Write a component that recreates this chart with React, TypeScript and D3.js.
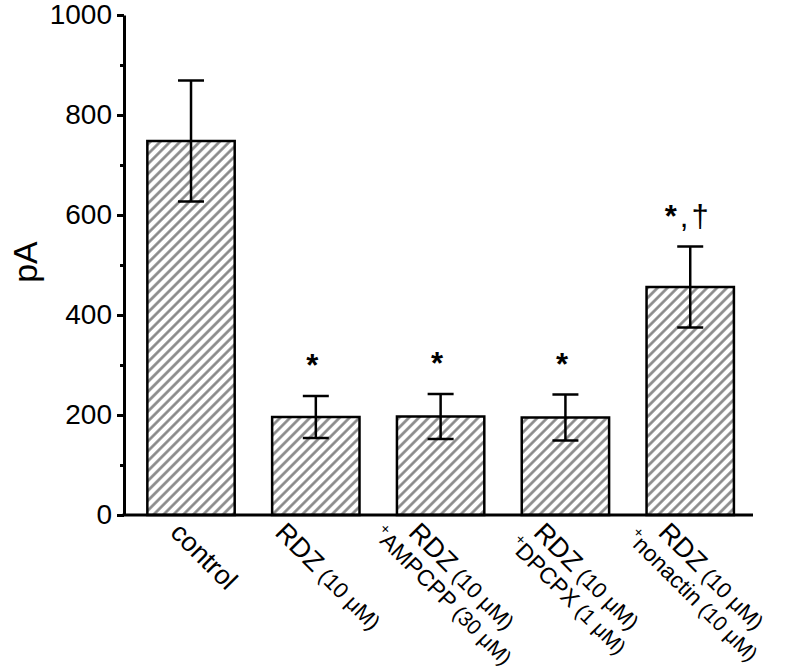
import { useEffect, useRef } from 'react';
import * as d3 from 'd3';

const categories = ['control', 'rdz', 'rdz_ampcpp', 'rdz_dpcpx', 'rdz_nonactin'];
const xLabels = [
  ['control'],
  ['RDZ (10 μM)'],
  ['RDZ (10 μM)', '+AMPCPP (30 μM)'],
  ['RDZ (10 μM)', '+DPCPX (1 μM)'],
  ['RDZ (10 μM)', '+nonactin (10 μM)'],
];
const means = [748, 196, 197, 195, 456];
const errors = [121, 42, 45, 46, 81];
const marks = ['', '*', '*', '*', '*,†'];
const yTicks = [0, 200, 400, 600, 800, 1000];
const yMinorTicks = [100, 300, 500, 700, 900];
const yTitle = 'pA';

const W = 787;
const H = 672;
const FONT = '"Liberation Sans", Arial, Helvetica, sans-serif';

export default function App() {
  const svgRef = useRef<SVGSVGElement>(null);

  useEffect(() => {
    if (!svgRef.current) return;
    const svg = d3.select(svgRef.current);
    svg.selectAll('*').remove();

    const left = 124, right = 753, top = 15, bottom = 515;

    const x = d3.scaleBand<string>()
      .domain(categories)
      .range([left, right])
      .paddingInner(0.3)
      .paddingOuter(0.17)
      .align(0.55);
    const y = d3.scaleLinear().domain([0, 1000]).range([bottom, top]);

    svg.append('rect').attr('width', W).attr('height', H).attr('fill', '#fff');

    // diagonal hatch
    const pat = svg.append('defs').append('pattern')
      .attr('id', 'hatch')
      .attr('patternUnits', 'userSpaceOnUse')
      .attr('width', 7).attr('height', 7)
      .attr('patternTransform', 'rotate(45)');
    pat.append('rect').attr('width', 7).attr('height', 7).attr('fill', '#fff');
    pat.append('line')
      .attr('x1', 3.5).attr('y1', -1).attr('x2', 3.5).attr('y2', 8)
      .attr('stroke', '#858585').attr('stroke-width', 2.6);

    // bars
    svg.append('g').selectAll('rect')
      .data(categories)
      .join('rect')
      .attr('x', d => x(d)!)
      .attr('y', (d, i) => y(means[i]))
      .attr('width', x.bandwidth())
      .attr('height', (d, i) => bottom - y(means[i]))
      .attr('fill', 'url(#hatch)')
      .attr('stroke', '#000')
      .attr('stroke-width', 2.5);

    // error bars
    const cap = 13;
    const eb = svg.append('g').attr('stroke', '#000').attr('stroke-width', 2.5);
    categories.forEach((c, i) => {
      const cx = x(c)! + x.bandwidth() / 2;
      const hi = y(means[i] + errors[i]);
      const lo = y(means[i] - errors[i]);
      eb.append('line').attr('x1', cx).attr('x2', cx).attr('y1', hi).attr('y2', lo);
      eb.append('line').attr('x1', cx - cap).attr('x2', cx + cap).attr('y1', hi).attr('y2', hi);
      eb.append('line').attr('x1', cx - cap).attr('x2', cx + cap).attr('y1', lo).attr('y2', lo);
    });

    // significance marks: asterisk bold, the rest plain
    const sig = svg.append('g').selectAll('text')
      .data(categories)
      .join('text')
      .attr('x', d => x(d)! + x.bandwidth() / 2 - 2)
      .attr('y', (d, i) => y(means[i] + errors[i]) - 20)
      .attr('text-anchor', 'middle')
      .attr('font-family', FONT)
      .attr('font-size', 31)
      .attr('letter-spacing', 3);
    sig.append('tspan').attr('font-weight', 'bold').text((d, i) => marks[i].slice(0, 1));
    sig.append('tspan').text((d, i) => marks[i].slice(1));

    // y axis
    const yAxis = svg.append('g').attr('transform', `translate(${left},0)`);
    yAxis.call(d3.axisLeft(y).tickValues(yTicks).tickSize(7).tickSizeOuter(0).tickPadding(5).tickFormat(d3.format('d')));
    yAxis.append('g').call(d3.axisLeft(y).tickValues(yMinorTicks).tickSize(4).tickFormat(() => ''))
      .select('.domain').remove();
    yAxis.selectAll('path, line').attr('stroke', '#000').attr('stroke-width', 3);
    yAxis.selectAll('text')
      .attr('font-family', FONT)
      .attr('font-size', 28)
      .attr('fill', '#000');

    // x axis line
    svg.append('line')
      .attr('x1', left - 1.5).attr('x2', right)
      .attr('y1', bottom).attr('y2', bottom)
      .attr('stroke', '#000').attr('stroke-width', 3);

    // y title
    svg.append('text')
      .attr('transform', 'translate(25,262) rotate(-90)')
      .attr('text-anchor', 'middle')
      .attr('dominant-baseline', 'central')
      .attr('font-family', FONT)
      .attr('font-size', 34)
      .text(yTitle);

    // rotated category labels
    const labels = svg.append('g').attr('font-family', FONT).attr('fill', '#000');
    const svgBox = svgRef.current.getBoundingClientRect();
    categories.forEach((c, i) => {
      const cx = x(c)! + x.bandwidth() / 2;
      const outer = labels.append('g');
      const inner = outer.append('g').attr('transform', 'rotate(45)');
      xLabels[i].forEach((line, k) => {
        const t = inner.append('text')
          .attr('x', 0)
          .attr('y', k * 26)
          .attr('text-anchor', 'middle');
        let rest = line;
        let mainSize = 27;
        let parenSize = 22;
        const plus = rest.startsWith('+');
        if (plus) {
          t.append('tspan').attr('font-size', 15).attr('dy', -9).text('+');
          rest = rest.slice(1);
          mainSize = 23;
          parenSize = 21;
        }
        const p = rest.indexOf(' (');
        const main = p >= 0 ? rest.slice(0, p) : rest;
        t.append('tspan').attr('font-size', mainSize).attr('dy', plus ? 9 : 0).text(main);
        if (p >= 0) t.append('tspan').attr('font-size', parenSize).text(rest.slice(p));
      });
      const box = (inner.node() as SVGGElement).getBoundingClientRect();
      const first = (inner.select('text').node() as SVGTextElement).getBoundingClientRect();
      const bx = (box.left + box.right) / 2 - svgBox.left;
      const by = first.top - svgBox.top;
      outer.attr('transform', `translate(${cx + 13 - bx},${517 - by})`);
    });
  }, []);

  return (
    <svg
      ref={svgRef}
      width={W}
      height={H}
      style={{ position: 'absolute', left: 0, top: 0, display: 'block' }}
    />
  );
}
